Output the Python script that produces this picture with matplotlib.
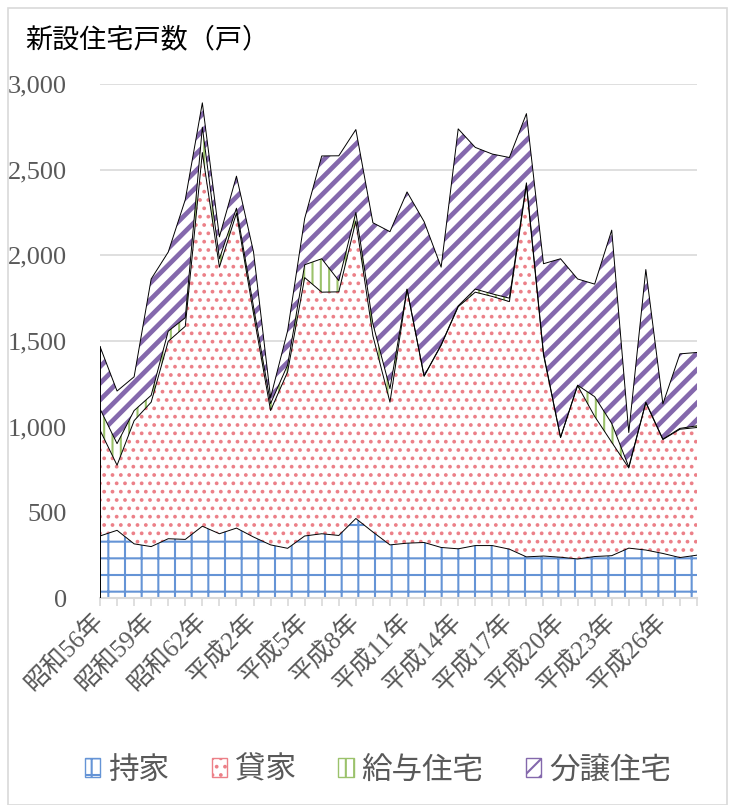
import numpy as np
import matplotlib.pyplot as plt
from matplotlib.patches import Patch, Rectangle

plt.rcParams['font.family'] = ['Noto Sans CJK JP', 'DejaVu Sans']
plt.rcParams['hatch.linewidth'] = 1.5

# 年（昭和56年〜平成28年）
years = ['昭和56年', '昭和57年', '昭和58年', '昭和59年', '昭和60年', '昭和61年',
         '昭和62年', '昭和63年', '平成元年', '平成2年', '平成3年', '平成4年',
         '平成5年', '平成6年', '平成7年', '平成8年', '平成9年', '平成10年',
         '平成11年', '平成12年', '平成13年', '平成14年', '平成15年', '平成16年',
         '平成17年', '平成18年', '平成19年', '平成20年', '平成21年', '平成22年',
         '平成23年', '平成24年', '平成25年', '平成26年', '平成27年', '平成28年']

# 新設住宅戸数（戸）
mochiie = [362, 395, 316, 300, 346, 342, 419, 375, 408, 356, 310, 290,
           362, 375, 365, 464, 385, 310, 320, 324, 295, 287, 306, 306,
           285, 240, 245, 238, 228, 242, 247, 291, 280, 260, 236, 250]
kashiya = [618, 380, 719, 843, 1152, 1244, 2181, 1556, 1838, 1304, 784, 1030,
           1508, 1410, 1422, 1736, 1145, 833, 1480, 971, 1180, 1413, 1479, 1454,
           1445, 2170, 1175, 699, 1012, 818, 662, 468, 860, 665, 749, 745]
kyuyo = [124, 126, 59, 40, 59, 50, 148, 49, 29, 40, 41, 40,
         75, 195, 65, 50, 70, 79, 3, 0, 3, 4, 18, 15,
         20, 13, 9, 0, 2, 115, 110, 6, 3, 2, 5, 10]
bunjo = [364, 307, 197, 679, 462, 689, 142, 128, 187, 320, 35, 200,
         270, 600, 729, 484, 590, 916, 567, 902, 453, 1034, 827, 816,
         821, 404, 522, 1043, 620, 657, 1128, 201, 774, 206, 435, 428]

series_names = ['持家', '貸家', '給与住宅', '分譲住宅']
hatch_colors = ['#6594D6', '#EC8088', '#9BC26B', '#8468AC']
hatches = ['+', '..', '||', '//']

x = np.arange(len(years))
tops = np.cumsum([mochiie, kashiya, kyuyo, bunjo], axis=0)
bottoms = np.vstack([np.zeros(len(years)), tops[:-1]])

fig = plt.figure(figsize=(7.29, 8.05), dpi=100)
ax = fig.add_axes([100 / 729, 1 - 598 / 805, 597 / 729, 514 / 805])

for i in range(4):
    poly = ax.fill_between(x, bottoms[i], tops[i], facecolor='white',
                           edgecolor=hatch_colors[i], hatch=hatches[i],
                           linewidth=0, zorder=2)
    if i == 3:
        try:
            poly.set_hatch_linewidth(3.4)
        except AttributeError:
            pass
    ax.plot(x, tops[i], color='black', lw=0.7, zorder=3)
ax.vlines([x[0], x[-1]], 0, [tops[3][0], tops[3][-1]], color='black', lw=0.7, zorder=3)

ax.set_xlim(x[0], x[-1])
ax.set_ylim(0, 3000)
ax.set_yticks(range(0, 3001, 500))
ax.set_yticklabels([f'{v:,}' for v in range(0, 3001, 500)],
                   family='Liberation Serif', fontsize=19, color='#595959')
ax.yaxis.grid(True, color='#D9D9D9', lw=1.2, zorder=0)
ax.set_axisbelow(True)
ax.tick_params(axis='y', length=0, pad=24)

ax.set_xticks(x)
ax.set_xticklabels([y if k % 3 == 0 else '' for k, y in enumerate(years)],
                   rotation=45, ha='right', va='center', rotation_mode='anchor',
                   fontsize=18, color='#595959',
                   family=['Liberation Serif', 'Noto Sans CJK JP'])
ax.tick_params(axis='x', length=6, width=1.2, color='#D9D9D9', pad=8)

for side in ['left', 'right', 'top']:
    ax.spines[side].set_visible(False)
ax.spines['bottom'].set_color('#D9D9D9')
ax.spines['bottom'].set_linewidth(1.5)

fig.text(25 / 729, 1 - 40 / 805, '新設住宅戸数（戸）', fontsize=19.5, va='center',
         color='black')

handles = [Patch(facecolor='white', edgecolor=hatch_colors[i], hatch=hatches[i],
                 linewidth=1) for i in range(4)]
fig.legend(handles, series_names, loc='center', bbox_to_anchor=(378 / 729, 1 - 770 / 805),
           ncol=4, frameon=False, fontsize=22, labelcolor='#595959',
           handlelength=0.5, handleheight=0.6, handletextpad=0.25, columnspacing=1.4)

fig.patches.append(Rectangle((8 / 729, 0), 719 / 729, 1 - 8 / 805, transform=fig.transFigure,
                             fill=False, edgecolor='#D9D9D9', lw=1.2))

fig.savefig('out.png', dpi=100)
